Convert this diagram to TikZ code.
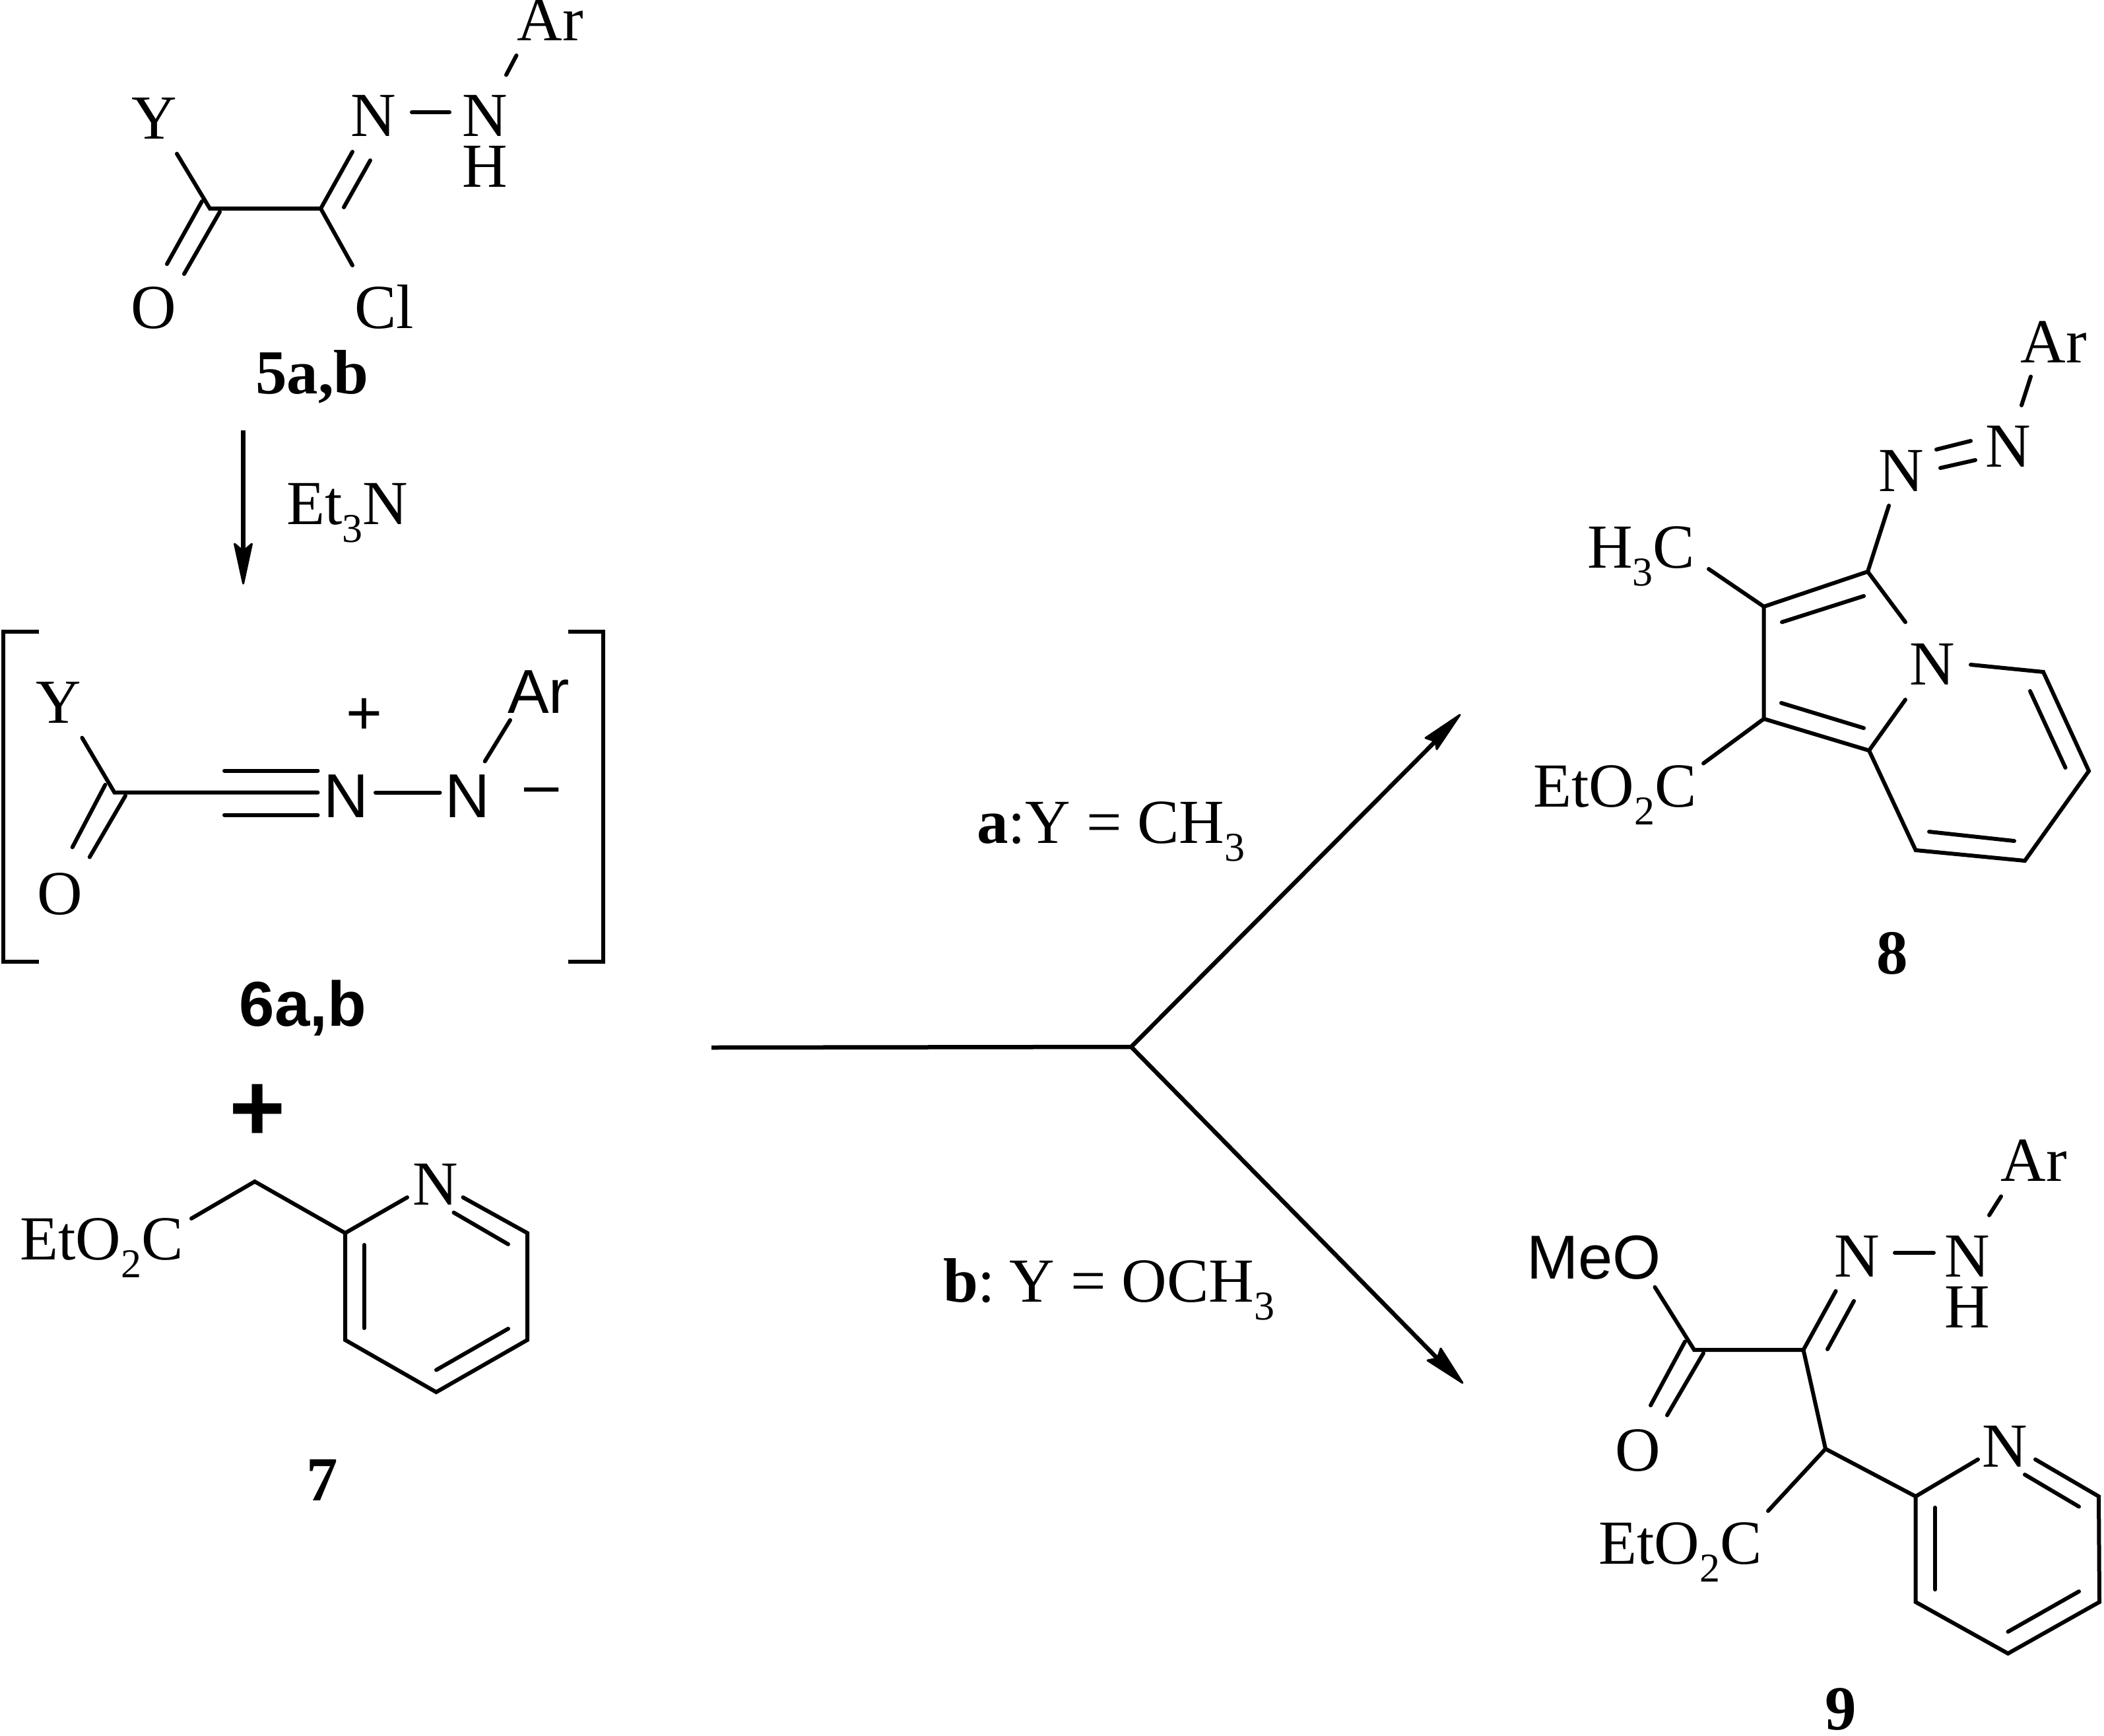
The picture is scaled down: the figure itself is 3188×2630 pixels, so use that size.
\documentclass[tikz,border=0pt]{standalone}
\usepackage{fontspec}
\setmainfont{Liberation Serif}
\setsansfont{Liberation Sans}
\newcommand{\subs}[1]{\raisebox{-27pt}{\fontsize{62}{62}\selectfont #1}}
\tikzset{
  atom/.style={inner sep=0pt, outer sep=0pt, anchor=base, font=\fontsize{95}{95}\selectfont},
  atomw/.style={atom, anchor=base west},
  satom/.style={inner sep=0pt, outer sep=0pt, anchor=base, font=\fontsize{94}{94}\selectfont\sffamily},
  satomw/.style={satom, anchor=base west},
  cpd/.style={inner sep=0pt, outer sep=0pt, anchor=base, font=\fontsize{95}{95}\selectfont\bfseries},
  scpd/.style={inner sep=0pt, outer sep=0pt, anchor=base, font=\fontsize{96}{96}\selectfont\sffamily\bfseries},
  bond/.style={draw=black, line width=6pt, line cap=round, line join=miter},
  shaft/.style={draw=black, line width=6.5pt, line cap=butt, line join=miter},
  headfill/.style={fill=black, draw=black, line width=3pt, line join=round},
}
\begin{document}
\begin{tikzpicture}[x=1pt,y=-1pt]
\useasboundingbox (0,0) rectangle (3188,2630);

% ---------- 5a,b ----------
\coordinate (c5a) at (318,316);
\coordinate (c5b) at (486,316);
\node[atom] (y5) at (234,211) {Y};
\node[atom] (o5) at (233,497) {O};
\node[atom] (cl5) at (582,497) {Cl};
\node[atom] (n5a) at (566,207) {N};
\node[atom] (n5b) at (735,207) {N};
\node[atom] (h5) at (735,284) {H};
\node[atom] (ar5) at (834,62) {Ar};
\node[cpd] (l5) at (473,596) {5a,b};
\draw[bond] (268,233) -- (c5a) -- (c5b);
\draw[bond] (306,305) -- (253,400);
\draw[bond] (333,321) -- (279,415);
\draw[bond] (c5b) -- (534,230);
\draw[bond] (521,314) -- (561,243);
\draw[bond] (c5b) -- (534,402);
\draw[bond] (624,170) -- (681,170);
\draw[bond] (767,113.5) -- (782.5,84);

% Et3N arrow
\coordinate (a1s) at (368.6,652);
\coordinate (a1n) at (368.6,835);
\coordinate (a1t) at (368.6,884);
\draw[shaft] (a1s) -- (a1n);
\draw[headfill] (a1t) -- (355.5,824) -- (a1n) -- (381.5,824) -- cycle;
\node[atomw] (et3n) at (434,794) {Et\subs{3}N};

% brackets
\draw[shaft] (59,957) -- (5,957) -- (5,1457) -- (59,1457);
\draw[shaft] (861,957) -- (914,957) -- (914,1457) -- (861,1457);

% ---------- 6a,b ----------
\coordinate (c6) at (173.5,1200.7);
\node[atom] (y6) at (89,1095) {Y};
\node[atom] (o6) at (90.5,1385) {O};
\node[satom] (n6a) at (524,1238) {N};
\node[satom] (n6b) at (708,1238) {N};
\node[satom] (ar6) at (816,1080) {Ar};
\node[satom] (plus6) at (552,1112) {+};
\node[satom] (minus6) at (821,1220) {–};
\node[scpd] (l6) at (459,1554) {6a,b};
\draw[bond] (124.4,1117.7) -- (c6) -- (481.5,1200.7);
\draw[bond] (159.4,1189) -- (109.7,1283.6);
\draw[bond] (190,1205.6) -- (135.8,1298.5);
\draw[bond] (340,1167.5) -- (481.5,1167.5);
\draw[bond] (340,1234.7) -- (481.5,1234.7);
\draw[bond] (569,1200.7) -- (666.5,1200.7);
\draw[bond] (734.7,1153.4) -- (773,1091);

\node[inner sep=0pt, anchor=base, font=\fontsize{146}{146}\selectfont\sffamily\bfseries] (bigplus) at (390,1728) {+};

% ---------- 7 ----------
\coordinate (c7m) at (386,1790);
\coordinate (r7a) at (523,1868);
\coordinate (r7b) at (799,1868);
\coordinate (r7c) at (799,2030);
\coordinate (r7d) at (661,2109);
\coordinate (r7e) at (523,2030);
\node[atomw] (e7) at (30,1908) {EtO\subs{2}C};
\node[atom] (n7) at (660,1825) {N};
\node[cpd] (l7) at (488,2273) {7};
\draw[bond] (290,1846) -- (c7m) -- (r7a) -- (617,1814);
\draw[bond] (701.5,1814) -- (r7b) -- (r7c) -- (r7d) -- (r7e) -- (r7a);
\draw[bond] (687.5,1837) -- (770,1885);
\draw[bond] (770,2013) -- (661,2075.5);
\draw[bond] (552,1886) -- (552,2012);

% ---------- branch arrows ----------
\coordinate (bs) at (1078,1587);
\coordinate (bm) at (1714,1586);
\coordinate (ua) at (2175,1123);
\coordinate (ut) at (2212,1083);
\coordinate (la) at (2178,2058);
\coordinate (lt) at (2216,2095);
\draw[shaft] (bs) -- (bm) -- (ua);
\draw[shaft] (bm) -- (la);
\draw[headfill] (ut) -- (2160,1118) -- (ua) -- (2177,1135) -- cycle;
\draw[headfill] (lt) -- (2163,2061) -- (la) -- (2183,2043) -- cycle;
\node[atomw] (la1) at (1480,1277) {\textbf{a}:Y = CH\subs{3}};
\node[atomw] (la2) at (1429,1972) {\textbf{b}:\hspace{-10pt} Y = OCH\subs{3}};

% ---------- 8 ----------
\coordinate (c3) at (2830,866);
\coordinate (c2) at (2672.6,919);
\coordinate (c1) at (2672.6,1089);
\coordinate (c8a) at (2832,1137);
\coordinate (c5) at (3096,1018);
\coordinate (c6r) at (3165,1168);
\coordinate (c7) at (3068,1304);
\coordinate (c8) at (2902.6,1288);
\node[atom] (ar8) at (3112,549) {Ar};
\node[atom] (n8a) at (3043,707) {N};
\node[atom] (n8b) at (2880.5,744) {N};
\node[atom] (n8) at (2928,1037) {N};
\node[atomw] (h3c) at (2405,860) {H\subs{3}C};
\node[atomw] (e8) at (2323,1222.5) {EtO\subs{2}C};
\node[cpd] (l8) at (2867,1475) {8};
\draw[bond] (3063,614) -- (3077,570.5);
\draw[bond] (2934,681) -- (2986,668);
\draw[bond] (2940,709) -- (2993,697);
\draw[bond] (2862,766) -- (c3);
\draw[bond] (2887,942.5) -- (c3) -- (c2) -- (c1) -- (c8a) -- (2887,1060);
\draw[bond] (2700,942.5) -- (2824,903);
\draw[bond] (2699,1065) -- (2824,1103);
\draw[bond] (2986,1007) -- (c5) -- (c6r) -- (c7) -- (c8) -- (c8a);
\draw[bond] (3076,1047) -- (3129.5,1163);
\draw[bond] (2923,1260) -- (3052,1274);
\draw[bond] (2589,862) -- (c2);
\draw[bond] (2581,1156.5) -- (c1);

% ---------- 9 ----------
\coordinate (d1) at (2567,2045);
\coordinate (d2) at (2732.5,2045);
\coordinate (d3) at (2766,2195);
\coordinate (ra) at (2902.6,2267);
\coordinate (rb) at (3180,2267);
\coordinate (rc) at (3181,2427);
\coordinate (rd) at (3042.5,2505);
\coordinate (re) at (2902.6,2427);
\node[atom] (ar9) at (3082,1789) {Ar};
\node[atom] (n9b) at (2981,1934) {N};
\node[atom] (h9) at (2981,2011) {H};
\node[atom] (n9a) at (2814,1934) {N};
\node[satomw] (meo) at (2313,1937.5) {MeO};
\node[atom] (o9) at (2482,2228) {O};
\node[atomw] (e9) at (2422,2369) {EtO\subs{2}C};
\node[atom] (n9) at (3038,2222) {N};
\node[cpd] (l9) at (2789,2620) {9};
\draw[bond] (3014,1841) -- (3032,1812.5);
\draw[bond] (2871,1898) -- (2930,1898);
\draw[bond] (2507.5,1950) -- (d1) -- (d2) -- (2781.6,1956);
\draw[bond] (2769,2044) -- (2809,1971);
\draw[bond] (2553,2032.5) -- (2501,2129);
\draw[bond] (2581,2050) -- (2526,2144);
\draw[bond] (d2) -- (d3) -- (2679,2289);
\draw[bond] (d3) -- (ra) -- (2997,2211);
\draw[bond] (3084,2211) -- (rb) -- (rc) -- (rd) -- (re) -- (ra);
\draw[bond] (3068,2234) -- (3150,2282.5);
\draw[bond] (3150,2411) -- (3042.5,2472);
\draw[bond] (2932,2284) -- (2932,2408);
\end{tikzpicture}
\end{document}
